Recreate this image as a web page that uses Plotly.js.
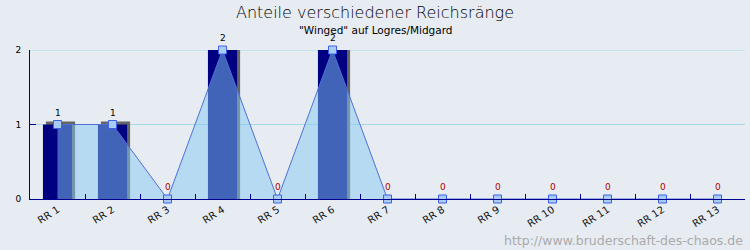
<!DOCTYPE html>
<html>
<head>
<meta charset="utf-8">
<script src="https://cdn.plot.ly/plotly-3.0.1.min.js"></script>
<style>html,body{margin:0;padding:0;background:#e6ecf2;}#chart{width:750px;height:250px;}</style>
</head>
<body>
<div id="chart"></div>
<script>
const categories = ["RR 1","RR 2","RR 3","RR 4","RR 5","RR 6","RR 7","RR 8","RR 9","RR 10","RR 11","RR 12","RR 13"];
const values = [1,1,0,2,0,2,0,0,0,0,0,0,0];
const yTicks = [0, 1, 2];
const titleText = "Anteile verschiedener Reichsränge";
const subtitleText = "\"Winged\" auf Logres/Midgard";
const watermarkText = "http://www.bruderschaft-des-chaos.de";

const BAR_W = 0.53;
const SHADOW_DX = 0.055;   // ~3px in category units
const SHADOW_DY = 0.04;    // ~3px in value units

const shadowVals = values.map(v => v > 0 ? v + SHADOW_DY : 0);

const traces = [
  { type: "bar", x: categories, y: shadowVals, width: BAR_W, offset: -BAR_W/2 + SHADOW_DX,
    marker: { color: "#666666", line: { width: 0 } }, hoverinfo: "skip", showlegend: false },
  { type: "bar", x: categories, y: values, width: BAR_W, offset: -BAR_W/2,
    marker: { color: "#000080", line: { width: 0 } }, showlegend: false },
  { type: "scatter", mode: "lines+markers", x: categories, y: values, fill: "tozeroy",
    fillcolor: "rgba(132,200,240,0.5)", line: { color: "#5070d8", width: 1 },
    marker: { symbol: "square", size: 8, color: "#a8ccf4", line: { color: "#4060e8", width: 1 } },
    cliponaxis: false, showlegend: false }
];

const valueLabels = categories.map((c, i) => ({
  text: String(values[i]), x: c, y: values[i], xref: "x", yref: "y", yshift: 12,
  xanchor: "center", yanchor: "middle", showarrow: false,
  font: { family: "DejaVu Sans", size: 9, color: values[i] > 0 ? "#000000" : "#b00000" }
}));

// gridlines drawn as shapes so the top one (at the range edge) is visible
const gridShapes = yTicks.filter(v => v > 0).map(v => ({
  type: "line", xref: "paper", x0: 0, x1: 1, yref: "y", y0: v, y1: v,
  line: { color: "#a6d8e8", width: 1 }, layer: "below"
}));

const layout = {
  width: 750, height: 250,
  margin: { l: 30, r: 5, t: 50, b: 51, pad: 0 },
  paper_bgcolor: "#e6ecf2", plot_bgcolor: "#e6ecf2",
  barmode: "overlay",
  font: { family: "DejaVu Sans", size: 9, color: "#000" },
  title: { text: titleText, x: 0.5, xanchor: "center", y: 0.95, yanchor: "middle", yref: "container",
           font: { family: "DejaVu Sans", size: 16, weight: 200, color: "#000" } },
  xaxis: { type: "category", range: [-0.5, 12.5], showline: true, linecolor: "#000090", linewidth: 1,
           ticks: "inside", tickson: "boundaries", ticklen: 5, tickcolor: "#000090", tickangle: -33,
           showgrid: false, zeroline: false, tickfont: { size: 10, color: "#111" }, fixedrange: true },
  yaxis: { range: [0, 2], tickvals: yTicks, showline: true, linecolor: "#000090", linewidth: 1,
           ticks: "inside", ticklen: 6, tickcolor: "#000090", showgrid: false,
           zeroline: false, ticklabelstandoff: 6, tickfont: { size: 9, color: "#000" }, fixedrange: true },
  shapes: gridShapes,
  annotations: [
    { text: subtitleText, xref: "paper", yref: "paper", x: 0.5, xshift: -12, y: 1, yshift: 20, xanchor: "center",
      yanchor: "middle", showarrow: false, font: { family: "DejaVu Sans", size: 10.5, color: "#000" } },
    { text: watermarkText, xref: "paper", yref: "paper", x: 1, y: 0, yshift: -41, xanchor: "right",
      yanchor: "middle", showarrow: false, font: { family: "DejaVu Sans", size: 12.5, color: "#aaaaaa" } }
  ].concat(valueLabels),
  showlegend: false
};

Plotly.newPlot("chart", traces, layout, { staticPlot: true, displayModeBar: false });
</script>
</body>
</html>
